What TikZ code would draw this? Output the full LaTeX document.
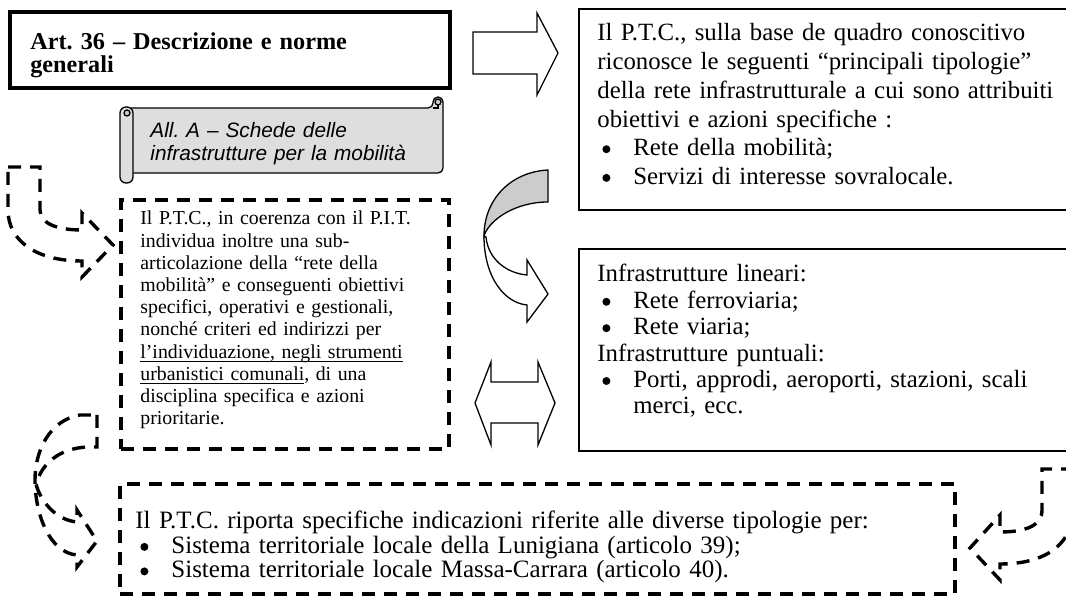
\documentclass[tikz,border=0pt]{standalone}
\usepackage{fontspec}
\setmainfont{Liberation Serif}
\setsansfont{Liberation Sans}
\frenchspacing
\lineskiplimit=-20pt
\definecolor{scrollgray}{RGB}{222,222,222}
\definecolor{backgray}{RGB}{204,204,204}
\newcommand{\itembul}{\makebox[18pt][l]{\hspace{2.5pt}\tikz[baseline=-3.3pt]\fill (0,0) circle[radius=2pt];}}
\newcommand{\ulpart}[1]{\underline{\smash{#1}}}

\tikzset{
  frame/.style={draw, line width=1pt, inner sep=0pt},
  titleframe/.style={draw, line width=2pt, inner sep=0pt},
  dashframe/.style={draw, line width=1.7pt, dash pattern=on 6.5pt off 4.5pt, inner sep=0pt},
  blockarrow/.style={draw, line width=0.65pt, fill=white, line join=miter},
  dasharrow/.style={draw, line width=1.7pt, dash pattern=on 6.5pt off 4.5pt},
  scroll/.style={draw, line width=0.65pt, fill=scrollgray},
  txt/.style={inner sep=0pt, anchor=base west, align=left, text width=#1},
}

\begin{document}
\begin{tikzpicture}[x=0.5pt, y=-0.5pt]
\useasboundingbox (0,0) rectangle (1066,597);
\clip (0,0) rectangle (1066,597);

% frames
\node[titleframe, minimum width=220pt, minimum height=38pt] (art) at (230,50) {};
\node[frame, minimum width=250.5pt, minimum height=100.5pt] (quadro) at (829.5,109.5) {};
\node[frame, minimum width=250.5pt, minimum height=101pt] (reti) at (829.5,350) {};
\node[dashframe, minimum width=164pt, minimum height=124.5pt] (subart) at (285,324.5) {};
\node[dashframe, minimum width=417.5pt, minimum height=55pt] (sistemi) at (537.5,539) {};

% scroll
\draw[scroll, rounded corners=2.5pt] (127,108) -- (433,108) -- (433,97) -- (443,97) -- (443,173) -- (127,173) -- cycle;
\draw[fill=backgray, line width=0.65pt] (438,102) circle[radius=3];
\draw[line width=0.65pt] (433,108) -- (438,108) -- (438,105);
\draw[scroll, rounded corners=3pt] (120,107) rectangle (133,183);
\draw[fill=backgray, line width=0.65pt] (127,113) circle[radius=3];

% texts
\node[txt=215pt, font=\bfseries\fontsize{12.1}{11.25}\selectfont] (arttxt) at (30,50)
  {Art. 36 – Descrizione e norme\\generali};
\node[txt=160pt, font=\sffamily\itshape\fontsize{10.4}{11.5}\selectfont] (allA) at (150,138)
  {All. A – Schede delle\\infrastrutture per la mobilità};
\node[txt=240pt, font=\fontsize{12.4}{14.35}\selectfont] (tipologie) at (597,41)
  {Il P.T.C., sulla base de quadro conoscitivo\\
   riconosce le seguenti “principali tipologie”\\
   della rete infrastrutturale a cui sono attribuiti\\
   obiettivi e azioni specifiche :\\
   \itembul Rete della mobilità;\\
   \itembul Servizi di interesse sovralocale.};
\node[txt=240pt, font=\fontsize{12.4}{13.2}\selectfont] (infra) at (597,282)
  {Infrastrutture lineari:\\
   \itembul Rete ferroviaria;\\
   \itembul Rete viaria;\\
   Infrastrutture puntuali:\\
   \itembul Porti, approdi, aeroporti, stazioni, scali\\
   \hspace*{18pt}merci, ecc.};
\node[txt=160pt, font=\fontsize{9.9}{11.1}\selectfont] (coerenza) at (140,225)
  {Il P.T.C., in coerenza con il P.I.T.\\
   individua inoltre una sub-\\
   articolazione della “rete della\\
   mobilità” e conseguenti obiettivi\\
   specifici, operativi e gestionali,\\
   nonché criteri ed indirizzi per\\
   \ulpart{l’individuazione, negli strumenti}\\
   \ulpart{urbanistici comunali}, di una\\
   disciplina specifica e azioni\\
   prioritarie.};
\node[txt=410pt, font=\fontsize{12.5}{12.25}\selectfont] (indicazioni) at (135,529)
  {Il P.T.C. riporta specifiche indicazioni riferite alle diverse tipologie per:\\
   \itembul Sistema territoriale locale della Lunigiana (articolo 39);\\
   \itembul Sistema territoriale locale Massa-Carrara (articolo 40).};

% block arrows
\draw[blockarrow] (473,32) -- (537,32) -- (537,13) -- (558,53) -- (537,95) -- (537,74) -- (473,74) -- cycle;
\draw[blockarrow] (475,403) -- (491,362) -- (491,382) -- (538,382) -- (538,362) -- (555,403)
  -- (538,445) -- (538,423) -- (491,423) -- (491,445) -- cycle;
\draw[blockarrow, fill=backgray] (548,170) .. controls (510,172) and (484,200) .. (484,236)
  .. controls (489,220) and (515,202) .. (548,202) -- cycle;
\draw[blockarrow] (484,236) .. controls (484,278) and (505,303) .. (527,305) -- (527,322) -- (548,294)
  -- (527,260) -- (527,275) .. controls (505,273) and (488,258) .. (486,237) -- cycle;

% dashed curved arrows
\draw[dasharrow] (8,167) -- (40,167) -- (40,210) .. controls (40,224) and (58,230) .. (82,230)
  -- (82,213) -- (113,245) -- (82,277) -- (82,261) .. controls (35,261) and (8,240) .. (8,210) -- cycle;
\draw[dasharrow] (97,415) -- (97,447) -- (88,447) .. controls (60,448) and (42,463) .. (36,484)
  .. controls (40,500) and (55,520) .. (77,522) -- (77,510) -- (97,541) -- (77,567) -- (77,555)
  .. controls (50,553) and (35,515) .. (35,480) .. controls (35,450) and (50,420) .. (80,415) -- cycle;
\draw[dasharrow] (1074,469) -- (1042,469) -- (1042,510) .. controls (1042,526) and (1025,532) .. (1000,532)
  -- (1000,515) -- (970,548) -- (1000,580) -- (1000,564) .. controls (1045,564) and (1074,545) .. (1074,505) -- cycle;
\end{tikzpicture}
\end{document}
